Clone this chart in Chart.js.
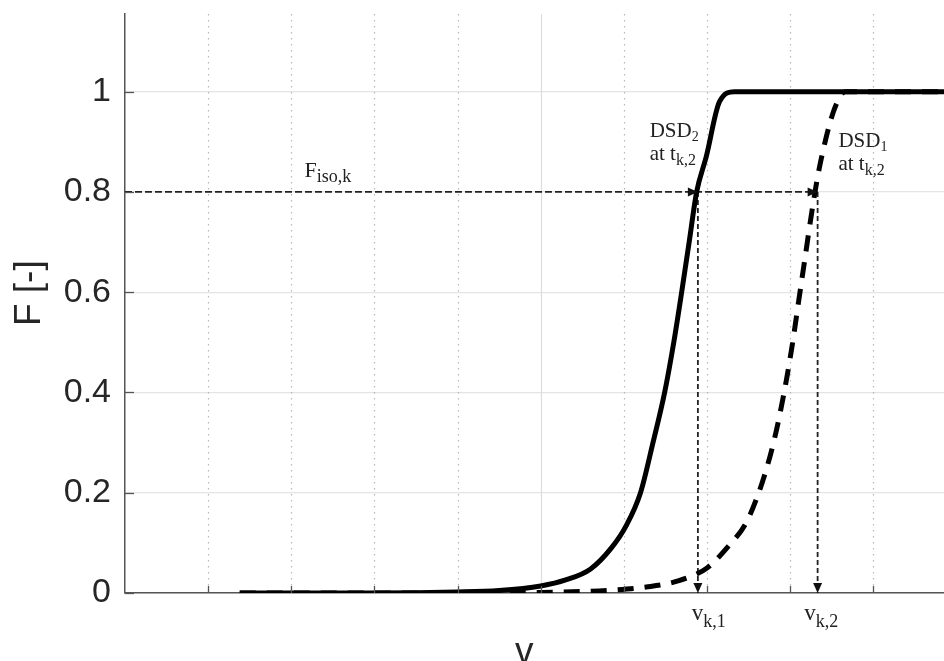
<!DOCTYPE html>
<html>
<head>
<meta charset="utf-8">
<script src="https://cdn.jsdelivr.net/npm/chart.js@4.4.0/dist/chart.umd.min.js"></script>
<style>
  html, body { margin: 0; padding: 0; background: #fff; overflow: hidden; }
  #wrap { width: 944px; height: 661px; }
</style>
</head>
<body>
<div id="wrap"><canvas id="grafico" width="944" height="661"></canvas></div>
<script>
// y ticks and x grid positions
const yTicks = [0, 0.2, 0.4, 0.6, 0.8, 1];
const xGrid = [1, 2, 3, 4, 5, 6, 7, 8, 9];

// DSD2 at t_k,2 (solid)
const dsd2X = [1.38, 3.0, 4.0, 4.5, 5.0, 5.3, 5.6, 5.85, 6.03, 6.2, 6.35, 6.49, 6.6, 6.695, 6.785, 6.875, 6.99, 7.15, 7.33, 9.85];
const dsd2Y = [0, 0, 0.002, 0.005, 0.014, 0.026, 0.048, 0.09, 0.135, 0.2, 0.3, 0.4, 0.5, 0.6, 0.7, 0.8, 0.87, 0.98, 1.0, 1.0];

// DSD1 at t_k,2 (dashed)
const dsd1X = [1.38, 4.5, 5.0, 5.5, 5.87, 6.27, 6.63, 7.0, 7.25, 7.47, 7.6, 7.71, 7.8, 7.88, 7.96, 8.03, 8.1, 8.18, 8.26, 8.33, 8.42, 8.52, 8.6, 8.66, 9.85];
const dsd1Y = [0, 0, 0.001, 0.003, 0.006, 0.012, 0.023, 0.05, 0.092, 0.14, 0.19, 0.245, 0.3, 0.36, 0.43, 0.5, 0.58, 0.67, 0.76, 0.83, 0.9, 0.96, 0.99, 1.0, 1.0];

// iso line and the two read-off sizes
const fIso = 0.8;
const vk1 = 6.89;
const vk2 = 8.33;

const toPts = (xs, ys) => xs.map((x, i) => ({ x: x, y: ys[i] }));

const serif = '"Liberation Serif", "Times New Roman", serif';
const sans = '"Liberation Sans", Arial, Helvetica, sans-serif';

function textSub(ctx, x, y, main, sub, size, subSize, drop) {
  ctx.font = size + "px " + serif;
  ctx.fillText(main, x, y);
  const w = ctx.measureText(main).width;
  ctx.font = subSize + "px " + serif;
  ctx.fillText(sub, x + w, y + drop);
}

function arrow(ctx, x, y, dir) {
  const L = 10, W = 4.5;
  ctx.beginPath();
  if (dir === "right") {
    ctx.moveTo(x, y); ctx.lineTo(x - L, y - W); ctx.lineTo(x - L, y + W);
  } else {
    ctx.moveTo(x, y); ctx.lineTo(x - W, y - L); ctx.lineTo(x + W, y - L);
  }
  ctx.closePath();
  ctx.fill();
}

const extras = {
  id: "extras",
  beforeDatasetsDraw(chart) {
    const { ctx, chartArea: a, scales: { x } } = chart;
    ctx.save();
    // vertical grid: dotted, the one at 5 solid
    xGrid.forEach(v => {
      const px = Math.round(x.getPixelForValue(v)) + 0.5;
      ctx.beginPath();
      if (v === 5) {
        ctx.setLineDash([]);
        ctx.strokeStyle = "#dcdcdc";
      } else {
        ctx.setLineDash([1.5, 4.5]);
        ctx.strokeStyle = "#b8b8b8";
      }
      ctx.lineWidth = 1.2;
      ctx.moveTo(px, a.top);
      ctx.lineTo(px, a.bottom);
      ctx.stroke();
    });
    ctx.restore();
  },
  afterDatasetsDraw(chart) {
    const { ctx, chartArea: a, scales: { x, y } } = chart;
    ctx.save();
    // inward tick marks
    ctx.strokeStyle = "#555";
    ctx.lineWidth = 1.3;
    ctx.setLineDash([]);
    yTicks.forEach(v => {
      const py = Math.round(y.getPixelForValue(v)) + 0.5;
      ctx.beginPath();
      ctx.moveTo(a.left, py);
      ctx.lineTo(a.left + 9, py);
      ctx.stroke();
    });
    xGrid.forEach(v => {
      const px = Math.round(x.getPixelForValue(v)) + 0.5;
      ctx.beginPath();
      ctx.moveTo(px, a.bottom);
      ctx.lineTo(px, a.bottom - 7);
      ctx.stroke();
    });

    // arrow heads
    ctx.fillStyle = "#111";
    arrow(ctx, x.getPixelForValue(vk1), y.getPixelForValue(fIso), "right");
    arrow(ctx, x.getPixelForValue(vk2), y.getPixelForValue(fIso), "right");
    arrow(ctx, x.getPixelForValue(vk1), y.getPixelForValue(0), "down");
    arrow(ctx, x.getPixelForValue(vk2), y.getPixelForValue(0), "down");

    // labels
    ctx.fillStyle = "#222";
    ctx.textBaseline = "alphabetic";
    ctx.textAlign = "left";
    textSub(ctx, x.getPixelForValue(2.16), y.getPixelForValue(0.83), "F", "iso,k", 22, 18, 5);
    textSub(ctx, x.getPixelForValue(6.31), y.getPixelForValue(0.91), "DSD", "2", 21, 14, 4);
    textSub(ctx, x.getPixelForValue(6.31), y.getPixelForValue(0.864), "at t", "k,2", 21, 16, 5);
    textSub(ctx, x.getPixelForValue(8.58), y.getPixelForValue(0.89), "DSD", "1", 21, 14, 4);
    textSub(ctx, x.getPixelForValue(8.58), y.getPixelForValue(0.844), "at t", "k,2", 21, 16, 5);
    textSub(ctx, x.getPixelForValue(6.815), y.getPixelForValue(-0.054), "v", "k,1", 23, 18, 7);
    textSub(ctx, x.getPixelForValue(8.17), y.getPixelForValue(-0.054), "v", "k,2", 23, 18, 7);
    ctx.restore();
  }
};

const grafico = new Chart(document.getElementById("grafico"), {
  type: "line",
  data: {
    datasets: [
      {
        label: "DSD2",
        data: toPts(dsd2X, dsd2Y),
        borderColor: "#000",
        borderWidth: 5,
        pointRadius: 0,
        cubicInterpolationMode: "monotone",
        borderCapStyle: "butt"
      },
      {
        label: "DSD1",
        data: toPts(dsd1X, dsd1Y),
        borderColor: "#000",
        borderWidth: 5,
        borderDash: [16, 11],
        pointRadius: 0,
        cubicInterpolationMode: "monotone"
      },
      {
        label: "F iso",
        data: [{ x: 0, y: fIso }, { x: vk2, y: fIso }],
        borderColor: "#222",
        borderWidth: 1.8,
        borderDash: [7, 3],
        pointRadius: 0
      },
      {
        label: "v k,1",
        data: [{ x: vk1, y: fIso }, { x: vk1, y: 0 }],
        borderColor: "#222",
        borderWidth: 1.8,
        borderDash: [5, 3],
        pointRadius: 0
      },
      {
        label: "v k,2",
        data: [{ x: vk2, y: fIso }, { x: vk2, y: 0 }],
        borderColor: "#222",
        borderWidth: 1.8,
        borderDash: [5, 3],
        pointRadius: 0
      }
    ]
  },
  options: {
    responsive: false,
    animation: false,
    maintainAspectRatio: false,
    layout: { padding: { top: 14, left: 0, right: 0, bottom: 0 } },
    plugins: {
      legend: { display: false },
      tooltip: { enabled: false }
    },
    scales: {
      x: {
        type: "linear",
        min: 0,
        max: 9.85,
        grid: { display: false },
        border: { display: true, color: "#555", width: 1.5 },
        ticks: { display: false },
        afterFit: s => { s.height = 68; s.paddingLeft = 0; s.paddingRight = 0; },
        title: {
          display: true,
          text: "v  ",
          color: "#262626",
          font: { family: sans, size: 37, lineHeight: 1 },
          padding: { top: 0, bottom: -10 }
        }
      },
      y: {
        min: 0,
        max: 1.155,
        afterBuildTicks: s => { s.ticks = yTicks.map(v => ({ value: v })); },
        afterFit: s => { s.width = 125; s.paddingTop = 0; s.paddingBottom = 0; },
        grid: { color: "#e4e4e4", lineWidth: 1.2, drawTicks: false },
        border: { display: true, color: "#555", width: 1.5 },
        ticks: {
          color: "#262626",
          padding: 14,
          font: { family: sans, size: 34 },
          callback: v => String(v)
        },
        title: {
          display: true,
          text: "  F [-]",
          color: "#262626",
          font: { family: sans, size: 37, lineHeight: 1 },
          padding: { top: 11, bottom: 0 }
        }
      }
    }
  },
  plugins: [extras]
});
</script>
</body>
</html>
